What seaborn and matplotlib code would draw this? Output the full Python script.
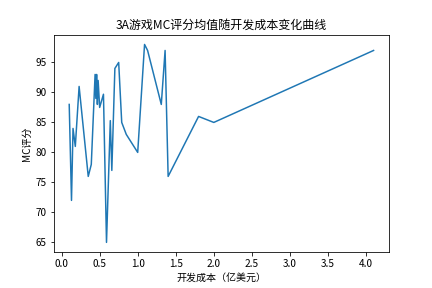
import matplotlib
matplotlib.use("Agg")
import matplotlib.pyplot as plt
import seaborn as sns
import pandas as pd

cost = [0.10, 0.13, 0.15, 0.18, 0.23, 0.35, 0.39, 0.44, 0.45, 0.46, 0.47, 0.48, 0.50, 0.55,
        0.59, 0.64, 0.66, 0.70, 0.75, 0.79, 0.85, 1.00, 1.09, 1.13, 1.31, 1.36, 1.40, 1.80, 2.00, 4.10]
score = [88, 72, 84, 81, 91, 76, 78, 93, 89, 93, 88, 92, 87.5, 89.7,
         65, 85.3, 77, 94, 95, 85, 83, 80, 98, 97, 88, 97, 76, 86, 85, 97]

df = pd.DataFrame({"cost": cost, "score": score})

plt.rcParams['font.family'] = ['Noto Sans CJK SC', 'DejaVu Sans']
plt.rcParams['axes.unicode_minus'] = False

fig, ax = plt.subplots(figsize=(6, 4), dpi=72)
fig.subplots_adjust(left=0.125, right=0.9, top=0.88, bottom=0.124)
sns.lineplot(data=df, x="cost", y="score", estimator=None, sort=False, ax=ax, color="#1f77b4", linewidth=1.5)
ax.set_title("3A游戏MC评分均值随开发成本变化曲线", fontsize=12)
ax.set_xlabel("开发成本（亿美元）", fontsize=10)
ax.set_ylabel("MC评分", fontsize=10)
fig.savefig("out.png", dpi=72)
